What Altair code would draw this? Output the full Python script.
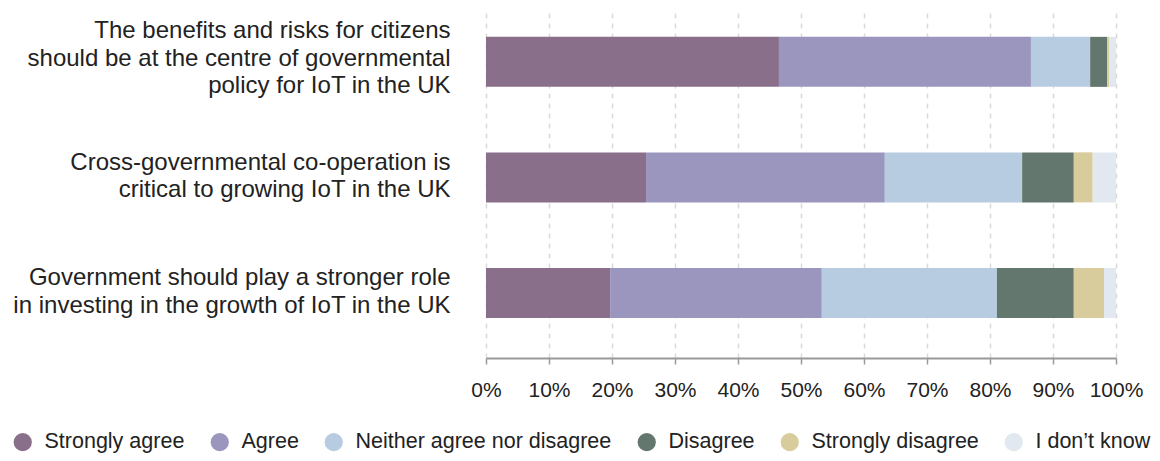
import altair as alt
import pandas as pd

statements = [
    "The benefits and risks for citizens|should be at the centre of governmental|policy for IoT in the UK",
    "Cross-governmental co-operation is|critical to growing IoT in the UK",
    "Government should play a stronger role|in investing in the growth of IoT in the UK",
]
responses = [
    "Strongly agree",
    "Agree",
    "Neither agree nor disagree",
    "Disagree",
    "Strongly disagree",
    "I don\u2019t know",
]
colors = ["#8a6f8b", "#9b96bd", "#b7cce0", "#64776f", "#d8cb9c", "#e2e8ef"]

benefits_values = [46.5, 40.0, 9.4, 2.7, 0.3, 1.1]
cooperation_values = [25.4, 37.9, 21.8, 8.2, 3.0, 3.7]
investing_values = [19.7, 33.6, 27.8, 12.2, 4.8, 1.9]
all_values = [benefits_values, cooperation_values, investing_values]

x_ticks = [0, 10, 20, 30, 40, 50, 60, 70, 80, 90, 100]

rows = []
for s, vals in zip(statements, all_values):
    for i, (r, v) in enumerate(zip(responses, vals)):
        rows.append({"statement": s, "response": r, "value": v, "order": i})
df = pd.DataFrame(rows)

FONT = "Liberation Sans"
LINE_H = 27.5

chart = (
    alt.Chart(df)
    .mark_bar()
    .encode(
        y=alt.Y(
            "statement:N",
            sort=statements,
            title=None,
            scale=alt.Scale(paddingInner=0.567, paddingOuter=0.294, align=0.41),
            axis=alt.Axis(
                domain=False,
                ticks=False,
                grid=False,
                labelExpr="split(datum.label, '|')",
                labelFont=FONT,
                labelFontSize=24,
                labelLineHeight=LINE_H,
                labelColor="#222222",
                labelPadding=36,
                labelAlign="right",
                labelBaseline="middle",
                labelLimit=600,
                labelOffset={
                    "condition": {
                        "test": "length(split(datum.value, '|')) == 3",
                        "value": -LINE_H - 3,
                    },
                    "value": -LINE_H / 2 - 1,
                },
            ),
        ),
        x=alt.X(
            "value:Q",
            stack="zero",
            title=None,
            scale=alt.Scale(domain=[0, 100], nice=False),
            axis=alt.Axis(
                values=x_ticks,
                labelExpr="datum.value + '%'",
                labelFont=FONT,
                labelFontSize=21,
                labelColor="#222222",
                labelPadding=15,
                domainColor="#999999",
                domainWidth=2,
                tickColor="#999999",
                tickWidth=1.5,
                tickSize=6,
                grid=True,
                gridColor="#dadada",
                gridDash=[5, 5],
                gridWidth=1.5,
                labelFlush=False,
            ),
        ),
        color=alt.Color(
            "response:N",
            sort=responses,
            scale=alt.Scale(domain=responses, range=colors),
            legend=alt.Legend(
                title=None,
                orient="none",
                direction="horizontal",
                columns=6,
                legendX=-474,
                legendY=422,
                symbolType="circle",
                symbolSize=330,
                symbolStrokeWidth=0,
                symbolOpacity=1,
                labelFont=FONT,
                labelFontSize=21.5,
                labelColor="#222222",
                labelOffset=11,
                columnPadding=24,
                labelLimit=400,
            ),
        ),
        order=alt.Order("order:Q"),
    )
    .properties(
        width=630,
        height=349,
        autosize=alt.AutoSizeParams(type="none"),
        padding={"left": 478, "top": 1, "right": 36, "bottom": 95},
    )
    .configure_view(stroke=None)
)

chart.save("out.html", embed_options={"renderer": "svg", "actions": False})
